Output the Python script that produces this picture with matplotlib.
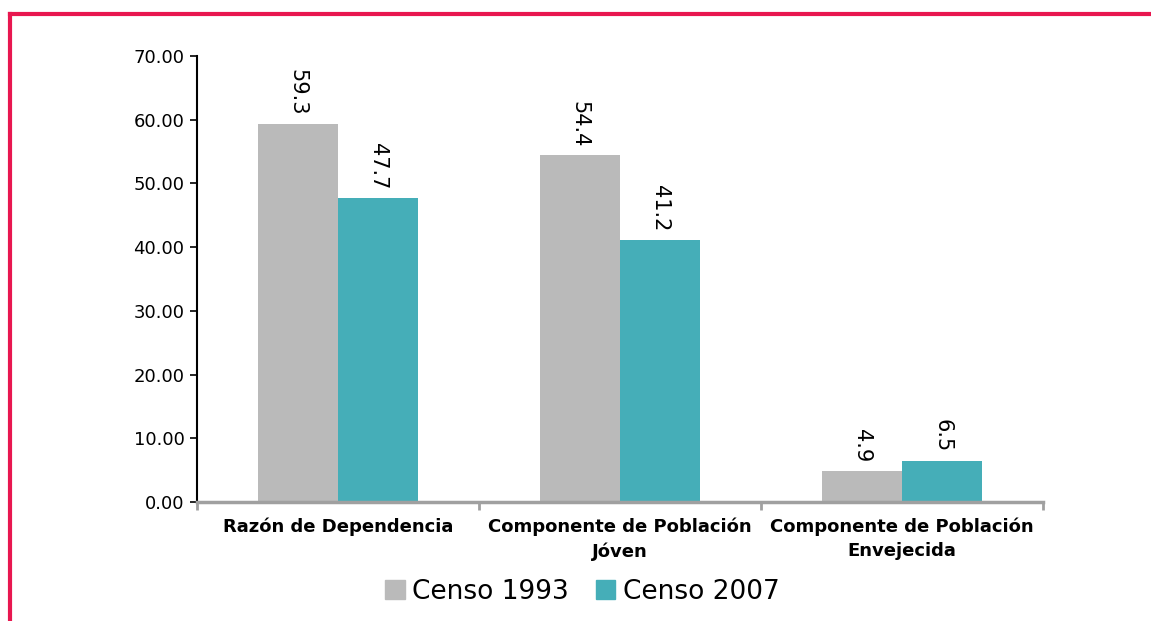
import numpy as np
import matplotlib.pyplot as plt
from matplotlib.lines import Line2D
from matplotlib.patches import Patch

categories = ['Razón de Dependencia', 'Componente de Población\nJóven', 'Componente de Población\nEnvejecida']
censo_1993 = [59.3, 54.4, 4.9]
censo_2007 = [47.7, 41.2, 6.5]
series_names = ['Censo 1993', 'Censo 2007']

gray = '#BABABA'
teal = '#45AEB8'

fig = plt.figure(figsize=(11.51, 6.21), dpi=100)
ax = fig.add_axes([0.1712, 0.1916, 0.735, 0.7182])

x = np.arange(len(categories))
w = 0.285
b1 = ax.bar(x - w / 2, censo_1993, w, color=gray, label=series_names[0])
b2 = ax.bar(x + w / 2, censo_2007, w, color=teal, label=series_names[1])

for bars, vals in [(b1, censo_1993), (b2, censo_2007)]:
    for r, v in zip(bars, vals):
        ax.annotate(f'{v:.1f}', (r.get_x() + r.get_width() / 2, v),
                    xytext=(0, 6), textcoords='offset points',
                    ha='center', va='bottom', rotation=-90, fontsize=15)

ax.set_xlim(-0.5, 2.5)
ax.set_ylim(0, 70)
ax.set_yticks(np.arange(0, 71, 10))
ax.set_yticklabels([f'{t:.2f}' for t in np.arange(0, 71, 10)], fontsize=13)
ax.set_xticks(x)
ax.set_xticklabels(categories, fontsize=13, fontweight='bold', linespacing=1.45)
ax.tick_params(axis='x', length=0, pad=11)
ax.set_xticks([-0.5, 0.5, 1.5, 2.5], minor=True)
ax.tick_params(axis='x', which='minor', length=6, color='#A0A0A0', width=2)
ax.tick_params(axis='y', length=5, width=1.2, color='black', pad=4)

for s in ['top', 'right']:
    ax.spines[s].set_visible(False)
ax.spines['left'].set_linewidth(1.5)
ax.spines['bottom'].set_color('#A0A0A0')
ax.spines['bottom'].set_linewidth(2.5)

handles = [Patch(color=gray), Patch(color=teal)]
fig.legend(handles, series_names, loc='center', bbox_to_anchor=(0.506, 0.047),
           ncol=2, frameon=False, fontsize=19, handlelength=0.75, handleheight=0.75,
           handletextpad=0.3, columnspacing=1.0)

# pink border top and left
red = '#E8174F'
fig.add_artist(Line2D([10 / 1151, 1.0], [1 - 14 / 621] * 2, color=red, lw=3, transform=fig.transFigure))
fig.add_artist(Line2D([10 / 1151] * 2, [0, 1 - 14 / 621], color=red, lw=3, transform=fig.transFigure))

fig.savefig('out.png', dpi=100)
